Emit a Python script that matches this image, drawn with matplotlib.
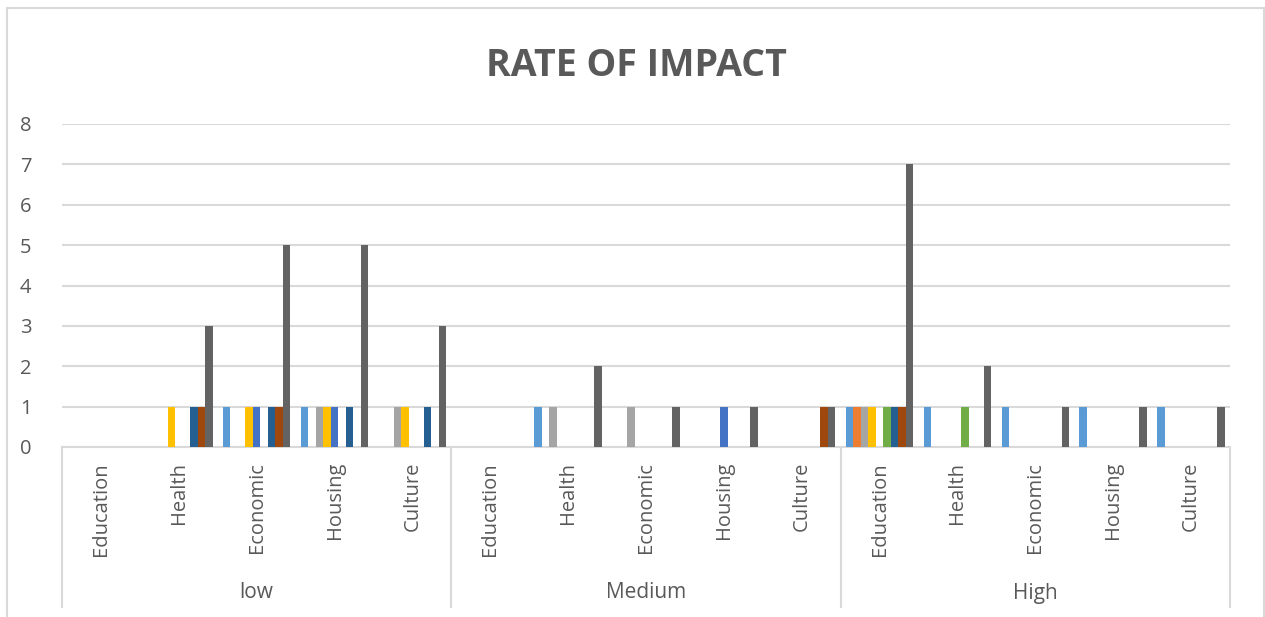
import matplotlib
matplotlib.use("Agg")
import matplotlib.pyplot as plt
import matplotlib.transforms as mtransforms
from matplotlib.patches import Rectangle
import numpy as np

# Data: three impact levels, each with five domains; nine respondent series
levels = ["low", "Medium", "High"]
domains = ["Education", "Health", "Economic", "Housing", "Culture"]

series_1 = [0, 0, 1, 1, 0,   0, 1, 0, 0, 0,   1, 1, 1, 1, 1]
series_2 = [0, 0, 0, 0, 0,   0, 0, 0, 0, 0,   1, 0, 0, 0, 0]
series_3 = [0, 0, 0, 1, 1,   0, 1, 1, 0, 0,   1, 0, 0, 0, 0]
series_4 = [0, 1, 1, 1, 1,   0, 0, 0, 0, 0,   1, 0, 0, 0, 0]
series_5 = [0, 0, 1, 1, 0,   0, 0, 0, 1, 0,   0, 0, 0, 0, 0]
series_6 = [0, 0, 0, 0, 0,   0, 0, 0, 0, 0,   1, 1, 0, 0, 0]
series_7 = [0, 1, 1, 1, 1,   0, 0, 0, 0, 0,   1, 0, 0, 0, 0]
series_8 = [0, 1, 1, 0, 0,   0, 0, 0, 0, 1,   1, 0, 0, 0, 0]
series_9 = [0, 3, 5, 5, 3,   0, 2, 1, 1, 1,   7, 2, 1, 1, 1]

series = [series_1, series_2, series_3, series_4, series_5,
          series_6, series_7, series_8, series_9]
colors = ["#5B9BD5", "#ED7D31", "#A5A5A5", "#FFC000", "#4472C4",
          "#70AD47", "#255E91", "#9E480E", "#636363"]

title = "RATE OF IMPACT"
yticks = [0, 1, 2, 3, 4, 5, 6, 7, 8]

W, H = 1265, 617
fig = plt.figure(figsize=(W / 100, H / 100), dpi=100)
fig.patch.set_facecolor("white")

# chart-area border
fig.add_artist(Rectangle((7 / W, -0.02), (1264 - 7) / W, (H - 8) / H + 0.02,
                         transform=fig.transFigure, fill=False,
                         edgecolor="#D9D9D9", linewidth=1.5))

left, right, top, bottom = 62, 1230, 124, 447
ax = fig.add_axes([left / W, (H - bottom) / H, (right - left) / W, (bottom - top) / H])

text_color = "#595959"
grid_color = "#D9D9D9"
fam = ["Open Sans", "DejaVu Sans"]
fs = 14.5

n_cat = len(levels) * len(domains)
x = np.arange(n_cat)
n_ser = len(series)
bw = 0.0963
for j, (vals, c) in enumerate(zip(series, colors)):
    ax.bar(x + (j - (n_ser - 1) / 2) * bw, vals, width=bw, color=c,
           linewidth=0, zorder=3)

ax.set_xlim(-0.5, n_cat - 0.5)
ax.set_ylim(0, 8)
ax.set_yticks(yticks)
ax.set_yticklabels([str(v) for v in yticks], fontsize=fs, color=text_color,
                   family=fam)
ax.tick_params(axis="y", length=0, pad=22)
ax.set_xticks([])
ax.yaxis.grid(True, color=grid_color, linewidth=1.5, zorder=0)
for s in ["left", "right", "top"]:
    ax.spines[s].set_visible(False)
ax.spines["bottom"].set_color(grid_color)
ax.spines["bottom"].set_linewidth(1.5)

# two-level category axis
trans = mtransforms.blended_transform_factory(ax.transData, ax.transAxes)
depth = (607 - 447) / (bottom - top)
for b in np.arange(-0.5, n_cat, len(domains)):
    ax.plot([b, b], [0, -depth], transform=trans, color=grid_color,
            linewidth=1.5, clip_on=False, zorder=1)

lab_y = -(462 - 447) / (bottom - top)
for i in range(n_cat):
    ax.text(x[i], lab_y, domains[i % len(domains)], transform=trans,
            rotation=90, ha="center", va="top", fontsize=fs,
            color=text_color, family=fam)

grp_y = -(593 - 447) / (bottom - top)
for g, name in enumerate(levels):
    cx = g * len(domains) + (len(domains) - 1) / 2
    ax.text(cx, grp_y, name, transform=trans, ha="center", va="center",
            fontsize=15, color=text_color, family=fam)

fig.text(636 / W, 1 - 66 / H, title, ha="center", va="center",
         fontsize=27, fontweight="bold", color=text_color, family=fam)

fig.savefig("out.png", dpi=100, facecolor="white")
